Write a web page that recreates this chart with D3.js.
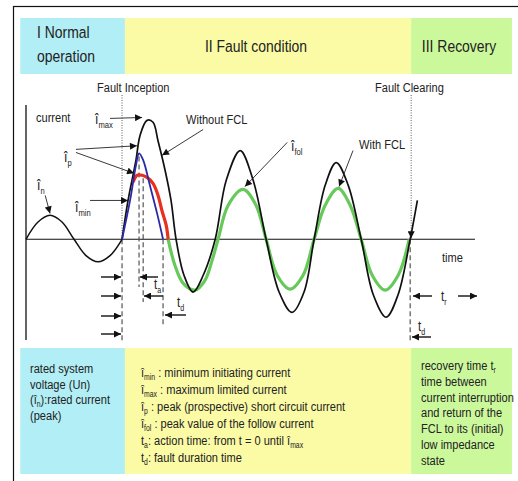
<!DOCTYPE html>
<html>
<head>
<meta charset="utf-8">
<script src="https://cdn.jsdelivr.net/npm/d3@7"></script>
<style>
  body { margin: 0; background: #fff; }
  svg { display: block; }
  text { font-family: "Liberation Sans", Arial, sans-serif; fill: #222; }
</style>
</head>
<body>
<svg id="chart" width="518" height="481"></svg>
<script>
// phases of the event, bounded by time (ms, t = 0 at fault inception)
const phaseNames = [["I Normal", "operation"], ["II Fault condition"], ["III Recovery"]];
const phaseBounds = [-21.2, 0.6, 60.2, 81.2];
const phaseColors = ["#b2eef5", "#fbfba6", "#ccf89c"];

// currents: [t (ms), i (per unit of rated peak)]
const normalCurrent = [[-20, 0], [-17.5, 0.72], [-15, 1.0], [-12.5, 0.72], [-10, 0],
  [-7.5, -0.68], [-5, -0.94], [-2.5, -0.68], [0, 0]];
const withoutFCL = [[0, 0], [1.25, 1.62], [2.9, 3.3], [3.75, 4.33], [5.2, 4.96], [6.45, 4.88],
  [7.5, 4.1], [8.96, 2.88], [10.2, 1.62], [11.25, 0], [12.9, -1.5], [14.8, -2.2], [16.9, -1.5],
  [19.4, 0], [21.7, 2.46], [24.6, 3.7], [27.3, 2.46], [30, 0], [32.7, -2.2], [35.4, -3.05],
  [37.9, -2.2], [40, 0], [42.3, 2.25], [44.6, 3.2], [47.1, 2.25], [49.8, 0], [52.3, -2.3],
  [55, -3.25], [57.5, -2.3], [60, 0], [61.5, 1.62]];
const prospective = [[0, 0], [1.67, 1.62], [2.9, 3.08], [3.54, 3.58], [4.4, 3.3], [5.8, 2.25],
  [7.3, 1.08], [8.54, 0]];
const limited = [[2.3, 2.38], [3.1, 2.67], [4.2, 2.67], [5.2, 2.58], [6.45, 2.33], [7.5, 1.83],
  [8.3, 1.2], [9.2, 0.58], [9.6, 0]];
const followCurrent = [[9.6, 0], [11, -1.08], [12.7, -1.83], [15.2, -2.12], [17.3, -1.7],
  [18.75, -0.88], [20, 0], [22.1, 1.42], [25.2, 2.08], [27.9, 1.42], [30, 0], [32.3, -1.5],
  [35, -2.08], [37.7, -1.5], [40, 0], [42.3, 1.42], [45, 2.12], [47.5, 1.42], [49.8, 0],
  [52.1, -1.5], [54.8, -2.12], [57.5, -1.5], [59.8, 0]];

// event times (ms) marked by dashed lines
const inceptionTime = 0, clearingTime = 60;
const markTimes = [0, 3.54, 4.4, 8.54, 60];

// notes under the chart
const normalNotes = ["rated system", "voltage (Un)", "(î_{n}):rated current", "(peak)"];
const faultNotes = ["î_{min} : minimum initiating current", "î_{max} : maximum limited current",
  "î_{p} : peak (prospective) short circuit current", "î_{fol} : peak value of the follow current",
  "t_{a}: action time: from t = 0 until î_{max}", "t_{d}: fault duration time"];
const recoveryNotes = ["recovery time t_{r}", "time between", "current interruption",
  "and return of the", "FCL to its (initial)", "low impedance", "state"];

const svg = d3.select("#chart");
const x = d3.scaleLinear().domain([-20, 73.5]).range([26, 475]);
const y = d3.scaleLinear().domain([-4.2, 5.6]).range([340, 105]);

// arrow heads
const defs = svg.append("defs");
defs.append("marker").attr("id", "arr").attr("viewBox", "0 0 10 10")
  .attr("refX", 10).attr("refY", 5).attr("markerWidth", 8).attr("markerHeight", 7)
  .attr("markerUnits", "userSpaceOnUse").attr("orient", "auto")
  .append("path").attr("d", "M0,0L10,5L0,10z").attr("fill", "#111");

// condensed text (no narrow font here) with _{sub} parts
const NARROW = 0.82;
function rich(g, px, py, str, size, anchor) {
  const t = g.append("text").attr("x", 0).attr("y", 0).attr("font-size", size)
    .attr("transform", `translate(${px},${py}) scale(${NARROW},1)`)
    .attr("text-anchor", anchor || "start");
  const parts = str.split(/(_\{[^}]*\})/).filter(s => s.length);
  let shift = 0;
  parts.forEach(p => {
    const sub = p.startsWith("_{");
    const s = sub ? p.slice(2, -1) : p;
    const want = sub ? size * 0.25 : 0;
    t.append("tspan").attr("dy", want - shift).attr("font-size", sub ? size * 0.62 : size).text(s);
    shift = want;
  });
  return t;
}

// outer frame
svg.append("rect").attr("x", 13.5).attr("y", 6.5).attr("width", 530).attr("height", 500)
  .attr("fill", "none").attr("stroke", "#111").attr("stroke-width", 1.2);

// phase bands top and bottom
phaseNames.forEach((names, k) => {
  const x0 = x(phaseBounds[k]), x1 = x(phaseBounds[k + 1]);
  svg.append("rect").attr("x", x0).attr("y", 18).attr("width", x1 - x0).attr("height", 56)
    .attr("fill", phaseColors[k]);
  svg.append("rect").attr("x", x0).attr("y", 348).attr("width", x1 - x0).attr("height", 126)
    .attr("fill", phaseColors[k]);
});
rich(svg, 37, 38, phaseNames[0][0], 17);
rich(svg, 37, 62, phaseNames[0][1], 17);
rich(svg, 256, 52, phaseNames[1][0], 17, "middle");
rich(svg, 459, 52, phaseNames[2][0], 17, "middle");

// notes
normalNotes.forEach((s, k) => rich(svg, 30, 373 + k * 15.5, s, 13.5));
faultNotes.forEach((s, k) => rich(svg, 141, 377 + k * 17, s, 13.5));
recoveryNotes.forEach((s, k) => rich(svg, 421, 370 + k * 15.8, s, 13.5));

// axes
svg.append("line").attr("x1", x(-20)).attr("x2", x(-20)).attr("y1", y(5.6)).attr("y2", y(-4.2))
  .attr("stroke", "#111").attr("stroke-width", 1.3);
svg.append("line").attr("x1", x(-20)).attr("x2", x(73.5)).attr("y1", y(0)).attr("y2", y(0))
  .attr("stroke", "#111").attr("stroke-width", 1.1);

// event lines: dotted above the axis, dashed below
svg.append("line").attr("x1", x(inceptionTime)).attr("x2", x(inceptionTime))
  .attr("y1", 95).attr("y2", y(0)).attr("stroke", "#333").attr("stroke-width", 0.8).attr("stroke-dasharray", "1,1.5");
svg.append("line").attr("x1", x(clearingTime) + 1).attr("x2", x(clearingTime) + 1)
  .attr("y1", 95).attr("y2", y(0) - 1).attr("stroke", "#333").attr("stroke-width", 0.8).attr("stroke-dasharray", "1,1.5")
  .attr("marker-end", "url(#arr)");
const dashTop = [y(0), y(3.45), y(2.55), y(0), y(0)];
const dashBottom = [341, 287, 302, 327, 342];
markTimes.forEach((t, k) => {
  svg.append("line").attr("x1", x(t)).attr("x2", x(t)).attr("y1", dashTop[k]).attr("y2", dashBottom[k])
    .attr("stroke", "#555").attr("stroke-width", 1.2).attr("stroke-dasharray", "5,3");
});

// current curves
const line = d3.line().x(d => x(d[0])).y(d => y(d[1])).curve(d3.curveCatmullRom.alpha(0.5));
const curve = (data, color, width) => svg.append("path").datum(data).attr("d", line)
  .attr("fill", "none").attr("stroke", color).attr("stroke-width", width).attr("stroke-linejoin", "round");
curve(normalCurrent, "#111", 1.5);
curve(followCurrent, "#66c95a", 3.2);
curve(withoutFCL, "#111", 1.7);
curve(limited, "#e8301f", 3.2);
curve(prospective, "#2b2aa6", 1.8);

// pointers in data coordinates
const pointers = [
  [[-2.5, 5.04], [4.17, 5.08]],
  [[-9.6, 3.75], [3.1, 3.9]],
  [[-9.6, 3.62], [2.5, 2.75]],
  [[-6.67, 1.62], [1.25, 1.62]],
  [[-16, 1.83], [-15, 1.08]],
  [[16.9, 4.58], [8.33, 3.5]],
  [[34.4, 4.04], [25.6, 2.2]],
  [[48.1, 3.7], [45.2, 2.2]]
];
pointers.forEach(p => svg.append("line")
  .attr("x1", x(p[0][0])).attr("y1", y(p[0][1])).attr("x2", x(p[1][0])).attr("y2", y(p[1][1]))
  .attr("stroke", "#222").attr("stroke-width", 0.9).attr("marker-end", "url(#arr)"));

// time-span arrows [from x, to x, y]
const spans = [[101, 121, 277], [101, 121, 296], [101, 121, 316], [101, 121, 334],
  [158, 140, 277], [163, 144, 296], [186, 165, 315],
  [432, 413, 296], [458, 477, 296], [431, 412, 337]];
spans.forEach(s => svg.append("line").attr("x1", s[0]).attr("x2", s[1]).attr("y1", s[2]).attr("y2", s[2])
  .attr("stroke", "#111").attr("stroke-width", 1.4).attr("marker-end", "url(#arr)"));

// labels
rich(svg, 97, 92, "Fault Inception", 13.5);
rich(svg, 375, 92, "Fault Clearing", 13.5);
rich(svg, 36, 122, "current", 13.5);
rich(svg, 186, 124, "Without FCL", 13.5);
rich(svg, 359, 149, "With FCL", 13.5);
rich(svg, 442, 262, "time", 13.5);
rich(svg, 95, 124, "î_{max}", 15);
rich(svg, 64, 162, "î_{p}", 15);
rich(svg, 37, 190, "î_{n}", 15);
rich(svg, 75, 212, "î_{min}", 15);
rich(svg, 291, 151, "î_{fol}", 15);
rich(svg, 154, 289, "t_{a}", 14);
rich(svg, 177, 307, "t_{d}", 14);
rich(svg, 441, 301, "t_{r}", 14);
rich(svg, 418, 331, "t_{d}", 14);
</script>
</body>
</html>
